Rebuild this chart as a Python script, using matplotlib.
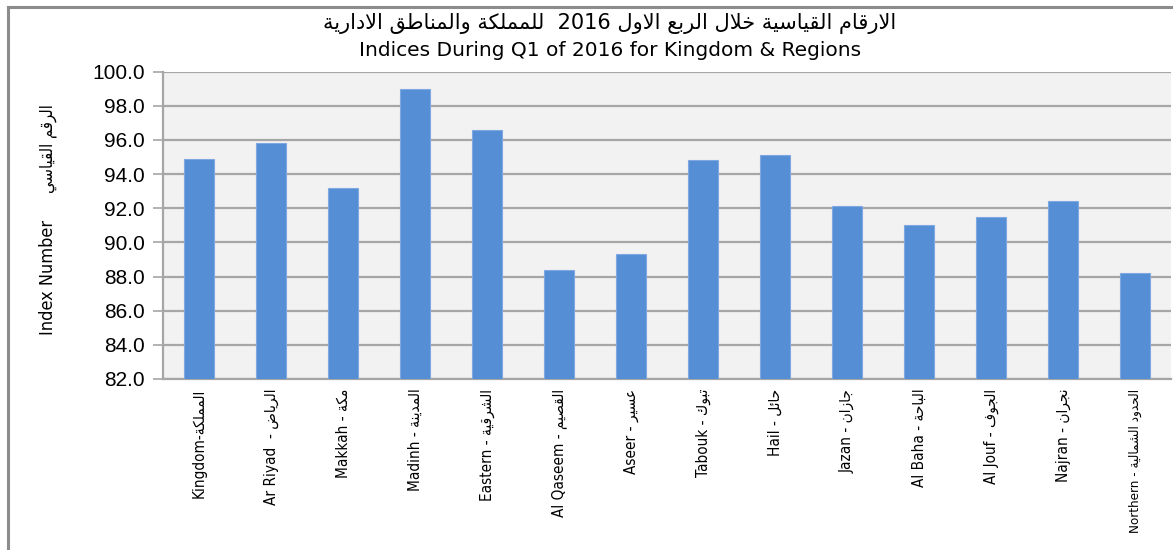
import matplotlib
matplotlib.use("Agg")
import matplotlib.pyplot as plt
from matplotlib.lines import Line2D

# ---------------- data ----------------
title_ar = "الارقام القياسية خلال الربع الاول 2016  للمملكة والمناطق الادارية"
title_en = "Indices During Q1 of 2016 for Kingdom & Regions"
ylabel_en = "Index Number"
ylabel_ar = "الرقم القياسي"
categories = [
    "Kingdom-المملكة",
    "Ar Riyad  - الرياض",
    "Makkah - مكة",
    "Madinh - المدينة",
    "Eastern - الشرقية",
    "Al Qaseem - القصيم",
    "Aseer - عسير",
    "Tabouk - تبوك",
    "Hail - حائل",
    "Jazan - جازان",
    "Al Baha - الباحة",
    "Al Jouf - الجوف",
    "Najran - نجران",
    "Northern - الحدود الشمالية",
]
values = [94.9, 95.8, 93.2, 99.0, 96.6, 88.4, 89.3, 94.8, 95.1, 92.1, 91.0, 91.5, 92.4, 88.2]
yticks = [82.0, 84.0, 86.0, 88.0, 90.0, 92.0, 94.0, 96.0, 98.0, 100.0]

# ---------------- minimal Arabic shaping ----------------
DUAL = {'ئ': 0xFE89, 'ب': 0xFE8F, 'ت': 0xFE95, 'ث': 0xFE99, 'ج': 0xFE9D, 'ح': 0xFEA1,
        'خ': 0xFEA5, 'س': 0xFEB1, 'ش': 0xFEB5, 'ص': 0xFEB9, 'ض': 0xFEBD, 'ط': 0xFEC1,
        'ظ': 0xFEC5, 'ع': 0xFEC9, 'غ': 0xFECD, 'ف': 0xFED1, 'ق': 0xFED5, 'ك': 0xFED9,
        'ل': 0xFEDD, 'م': 0xFEE1, 'ن': 0xFEE5, 'ه': 0xFEE9, 'ي': 0xFEF1}
RIGHT = {'آ': 0xFE81, 'أ': 0xFE83, 'ؤ': 0xFE85, 'إ': 0xFE87, 'ا': 0xFE8D, 'ة': 0xFE93,
         'د': 0xFEA9, 'ذ': 0xFEAB, 'ر': 0xFEAD, 'ز': 0xFEAF, 'و': 0xFEED, 'ى': 0xFEEF}
LAMALEF = {'ا': 0xFEFB, 'أ': 0xFEF7, 'إ': 0xFEF9, 'آ': 0xFEF5}


def is_ar(c):
    return '\u0600' <= c <= '\u06FF'


def shape(s):
    toks = []
    i = 0
    while i < len(s):
        c = s[i]
        if c == 'ل' and i + 1 < len(s) and s[i + 1] in LAMALEF:
            toks.append(('LA', s[i + 1]))
            i += 2
        else:
            toks.append(('C', c))
            i += 1

    def dual(t):
        return t[0] == 'C' and t[1] in DUAL

    def joinable(t):
        return t[0] == 'LA' or (t[0] == 'C' and (t[1] in DUAL or t[1] in RIGHT))

    out = []
    for k, t in enumerate(toks):
        prev = toks[k - 1] if k > 0 else None
        nxt = toks[k + 1] if k + 1 < len(toks) else None
        jp = prev is not None and dual(prev) and joinable(t)
        jn = dual(t) and nxt is not None and joinable(nxt)
        if t[0] == 'LA':
            out.append(chr(LAMALEF[t[1]] + (1 if jp else 0)))
        elif t[1] in DUAL:
            off = 3 if (jp and jn) else 1 if jp else 2 if jn else 0
            out.append(chr(DUAL[t[1]] + off))
        elif t[1] in RIGHT:
            out.append(chr(RIGHT[t[1]] + (1 if jp else 0)))
        elif t[1] == 'ء':
            out.append('\uFE80')
        else:
            out.append(t[1])
    return ''.join(out)


def rtl_para(s):
    res = []
    for w in reversed(s.split(' ')):
        res.append(shape(w)[::-1] if any(is_ar(c) for c in w) else w)
    return ' '.join(res)


def ltr_mixed(s):
    idx = next((i for i, c in enumerate(s) if is_ar(c)), None)
    if idx is None:
        return s
    return s[:idx] + shape(s[idx:])[::-1]


# ---------------- fonts ----------------
fam_arial = ['Liberation Sans', 'DejaVu Sans']
cond = dict(family=['DejaVu Sans'], fontstretch='condensed')

# ---------------- figure ----------------
fig = plt.figure(figsize=(11.73, 5.5), dpi=100)
ax = fig.add_axes([163 / 1173, 1 - 379 / 550, (1171 - 163) / 1173, (379 - 71.5) / 550])
ax.set_facecolor('#F2F2F2')

x = list(range(len(categories)))
ax.bar(x, values, width=0.42, bottom=0, color='#558ED5', edgecolor='#7FA8E2',
       linewidth=0.8, zorder=3)

ax.set_ylim(82, 100)
ax.set_xlim(-0.5, len(categories) - 0.5)
ax.set_yticks(yticks)
ax.set_yticklabels([f"{v:.1f}" for v in yticks], family=fam_arial, fontsize=15)
ax.set_xticks(x)
labels = ax.set_xticklabels([ltr_mixed(c) for c in categories], rotation=90, fontsize=11,
                            va='top', **cond)
labels[-1].set_fontsize(9.6)
ax.tick_params(axis='x', length=0, pad=7)
ax.tick_params(axis='y', length=7, width=1.2, color='#A6A6A6', pad=6)
ax.grid(axis='y', color='#A6A6A6', linewidth=1.6, zorder=0)
ax.set_axisbelow(True)
for side in ['top', 'right']:
    ax.spines[side].set_visible(False)
for side in ['left', 'bottom']:
    ax.spines[side].set_color('#A6A6A6')
    ax.spines[side].set_linewidth(1.6)

# titles
fig.text(610 / 1173, 1 - 23 / 550, rtl_para(title_ar), ha='center', va='center',
         fontsize=15, family=['DejaVu Sans'])
fig.text(610 / 1173, 1 - 50 / 550, title_en, ha='center', va='center',
         fontsize=14.5, family=['DejaVu Sans'])

# y labels
fig.text(48 / 1173, 1 - 277 / 550, ylabel_en, rotation=90, ha='center', va='center',
         fontsize=13, **cond)
fig.text(48 / 1173, 1 - 149 / 550, rtl_para(ylabel_ar), rotation=90, ha='center',
         va='center', fontsize=12, **cond)

# outer frame (top and left edges visible)
fig.add_artist(Line2D([8 / 1173, 8 / 1173], [0, 1 - 6.5 / 550], transform=fig.transFigure,
                      color='#8C8C8C', linewidth=2.2))
fig.add_artist(Line2D([8 / 1173, 1.0], [1 - 6.5 / 550, 1 - 6.5 / 550],
                      transform=fig.transFigure, color='#8C8C8C', linewidth=2.2))

fig.savefig('out.png', dpi=100, facecolor='white')
